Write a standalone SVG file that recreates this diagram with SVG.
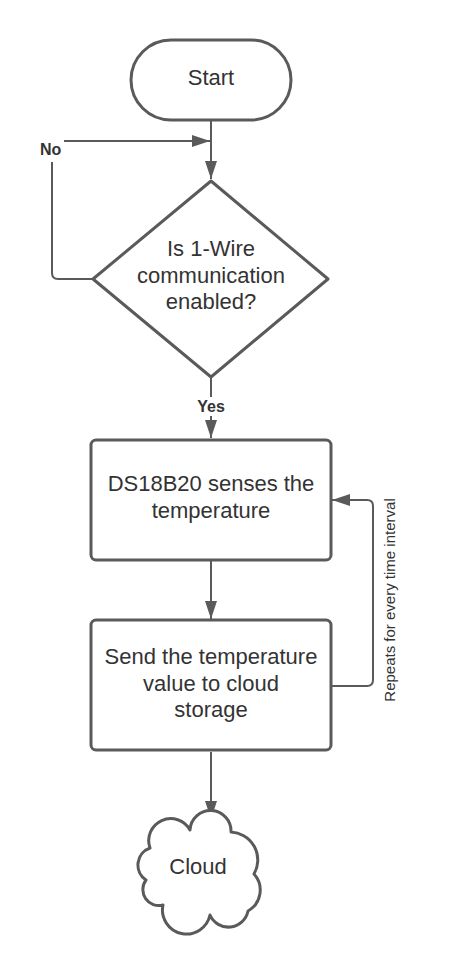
<svg xmlns="http://www.w3.org/2000/svg" width="451" height="963" viewBox="0 0 451 963">
<style>
.shape{fill:#fff;stroke:#5a5a5a;stroke-width:3;stroke-linejoin:round}
.conn{fill:none;stroke:#5a5a5a;stroke-width:2}
.t{font-family:"Liberation Sans",Arial,sans-serif;font-size:22px;fill:#333;text-anchor:middle}
.lbl{font-family:"Liberation Sans",Arial,sans-serif;font-size:16px;font-weight:bold;fill:#333}
.side{font-family:"Liberation Sans",Arial,sans-serif;font-size:15px;fill:#333;text-anchor:middle}
</style>
<defs>
<marker id="ah" markerWidth="18" markerHeight="12" refX="18" refY="6" orient="auto" markerUnits="userSpaceOnUse">
<path d="M0,0 L18,6 L0,12 Z" fill="#5a5a5a"/>
</marker>
</defs>
<rect width="451" height="963" fill="#fff"/>
<g id="connectors">
<path class="conn" d="M211 121 L211 179" marker-end="url(#ah)"/>
<path class="conn" d="M64 141 L210 141" marker-end="url(#ah)"/>
<path class="conn" d="M93 279 L58 279 Q52 279 52 273 L52 162"/>
<path class="conn" d="M211 378 L211 397"/>
<path class="conn" d="M211 416 L211 438" marker-end="url(#ah)"/>
<path class="conn" d="M211 561 L211 619" marker-end="url(#ah)"/>
<path class="conn" d="M331 686 L367 686 Q373 686 373 680 L373 506 Q373 500 367 500 L332 500" marker-end="url(#ah)"/>
<path class="conn" d="M211 752 L211 819" marker-end="url(#ah)"/>
<text class="lbl" x="40" y="155">No</text>
<text class="lbl" x="211" y="412" text-anchor="middle">Yes</text>
<text class="side" transform="translate(395 600) rotate(-90)">Repeats for every time interval</text>
</g>
<g id="start">
<rect class="shape" x="131" y="40" width="160" height="80" rx="40"/>
<text class="t" x="211" y="85">Start</text>
</g>
<g id="decision">
<path class="shape" d="M211 181 L328 279 L211 377 L93 279 Z"/>
<text class="t" x="211" y="256">Is 1-Wire</text>
<text class="t" x="211" y="283">communication</text>
<text class="t" x="211" y="309">enabled?</text>
</g>
<g id="sense">
<rect class="shape" x="91" y="440" width="240" height="120" rx="5"/>
<text class="t" x="211" y="491">DS18B20 senses the</text>
<text class="t" x="211" y="518">temperature</text>
</g>
<g id="send">
<rect class="shape" x="91" y="620" width="240" height="130" rx="5"/>
<text class="t" x="211" y="664">Send the temperature</text>
<text class="t" x="211" y="691">value to cloud</text>
<text class="t" x="211" y="717">storage</text>
</g>
<g id="cloud">
<path class="shape" d="M150 848 A22 22 0 0 1 190 830 A20 20 0 0 1 231 832 A28 28 0 0 1 254 874 A24 24 0 0 1 248 911 A20 20 0 0 1 210 915 A24 24 0 0 1 163 905 A16 16 0 0 1 146 880 A18 18 0 0 1 150 848 Z"/>
<text class="t" x="198" y="874">Cloud</text>
</g>
</svg>
